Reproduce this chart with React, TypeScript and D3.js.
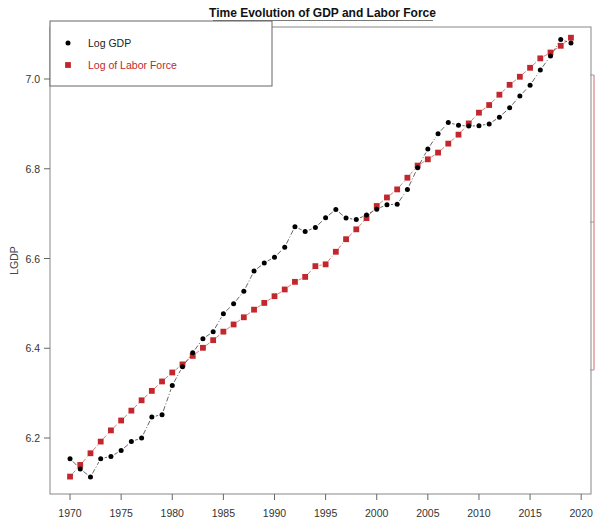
import React from "react";
import * as d3 from "d3";

const years: number[] = d3.range(1970, 2020);

const logGDP: number[] = [
  6.154, 6.131, 6.113, 6.154, 6.159, 6.172, 6.192, 6.2, 6.247, 6.252,
  6.317, 6.359, 6.39, 6.421, 6.437, 6.477, 6.499, 6.527, 6.572, 6.59,
  6.603, 6.625, 6.671, 6.66, 6.669, 6.691, 6.709, 6.69, 6.687, 6.697,
  6.71, 6.72, 6.721, 6.754, 6.802, 6.844, 6.878, 6.903, 6.897, 6.895,
  6.896, 6.9, 6.915, 6.936, 6.962, 6.986, 7.02, 7.051, 7.088, 7.08,
];

const logLabor: number[] = [
  6.114, 6.14, 6.166, 6.192, 6.217, 6.239, 6.261, 6.284, 6.305, 6.326,
  6.346, 6.364, 6.383, 6.401, 6.418, 6.437, 6.453, 6.469, 6.486, 6.501,
  6.516, 6.531, 6.548, 6.559, 6.583, 6.587, 6.615, 6.643, 6.665, 6.69,
  6.717, 6.736, 6.754, 6.78, 6.807, 6.821, 6.836, 6.856, 6.876, 6.901,
  6.925, 6.942, 6.965, 6.987, 7.005, 7.025, 7.046, 7.059, 7.074, 7.092,
];

const xTicks: number[] = [1970, 1975, 1980, 1985, 1990, 1995, 2000, 2005, 2010, 2015, 2020];
const yTicks: number[] = [6.2, 6.4, 6.6, 6.8, 7.0];

const W = 595;
const H = 521;
const L = 50, R = 591, T = 27, B = 494;
const FONT = "Liberation Sans, Arial, sans-serif";

export default function App() {
  const x = d3.scaleLinear().domain([1968.04, 2020.96]).range([L, R]);
  const y = d3.scaleLinear().domain([6.2, 7.0]).range([438, 79]);

  const segs = (vals: number[], gap: number) => {
    const out: string[] = [];
    for (let i = 0; i < vals.length - 1; i++) {
      const x1 = x(years[i]), y1 = y(vals[i]);
      const x2 = x(years[i + 1]), y2 = y(vals[i + 1]);
      const dx = x2 - x1, dy = y2 - y1;
      const len = Math.hypot(dx, dy);
      if (len <= 2 * gap) continue;
      const ux = dx / len, uy = dy / len;
      const p = d3.path();
      p.moveTo(x1 + ux * gap, y1 + uy * gap);
      p.lineTo(x2 - ux * gap, y2 - uy * gap);
      out.push(p.toString());
    }
    return out;
  };

  const red = "#c1272d";

  return (
    <svg width={W} height={H} style={{ position: "absolute", left: 0, top: 0, background: "#fff" }}>
      <rect x={0} y={0} width={W} height={H} fill="#fff" />
      {/* title */}
      <text x={(L + R) / 2 + 2} y={17} textAnchor="middle" fontFamily={FONT} fontWeight="bold" fontSize={12} fill="#111">
        Time Evolution of GDP and Labor Force
      </text>
      <line x1={213} x2={433} y1={20.5} y2={20.5} stroke="#555" strokeWidth={0.8} />
      {/* frame */}
      <rect x={L} y={T} width={R - L} height={B - T} fill="none" stroke="#888" strokeWidth={1} />
      {/* right red axis fragment */}
      <line x1={594} x2={594} y1={75} y2={370} stroke="#d98080" strokeWidth={1.2} />
      {[75, 222, 370].map((t) => (
        <line key={t} x1={590} x2={594} y1={t} y2={t} stroke="#999" strokeWidth={1} />
      ))}
      {/* x axis */}
      {xTicks.map((t) => (
        <g key={t}>
          <line x1={x(t)} x2={x(t)} y1={B} y2={B + 6} stroke="#666" />
          <text x={x(t)} y={517} textAnchor="middle" fontFamily={FONT} fontSize={10.5} fill="#333">
            {t}
          </text>
        </g>
      ))}
      {/* y axis */}
      {yTicks.map((t) => (
        <g key={t}>
          <line x1={L - 6} x2={L} y1={y(t)} y2={y(t)} stroke="#666" />
          <text x={40} y={y(t) + 4} textAnchor="end" fontFamily={FONT} fontSize={10.5} fill="#333">
            {t.toFixed(1)}
          </text>
        </g>
      ))}
      <text transform={`translate(18,${(T + B) / 2}) rotate(-90)`} textAnchor="middle" fontFamily={FONT} fontSize={10.5} fill="#444">
        LGDP
      </text>
      {/* lines */}
      {segs(logLabor, 4).map((d, i) => (
        <path key={"l" + i} d={d} fill="none" stroke="#d88080" strokeWidth={1} strokeDasharray="4,2,1,2" />
      ))}
      {segs(logGDP, 4).map((d, i) => (
        <path key={"g" + i} d={d} fill="none" stroke="#666" strokeWidth={1} strokeDasharray="5,2,1,2" />
      ))}
      {/* points */}
      {logLabor.map((v, i) => (
        <rect key={"rs" + i} x={x(years[i]) - 2.9} y={y(v) - 2.9} width={5.8} height={5.8} fill={red} />
      ))}
      {logGDP.map((v, i) => (
        <circle key={"gc" + i} cx={x(years[i])} cy={y(v)} r={2.5} fill="#000" />
      ))}
      {/* legend */}
      <rect x={L} y={21} width={222} height={65} fill="#fff" stroke="#666" strokeWidth={1} />
      <circle cx={68} cy={43} r={2.5} fill="#000" />
      <text x={88} y={47} fontFamily={FONT} fontSize={10.5} fill="#222">Log GDP</text>
      <rect x={65.1} y={62.1} width={5.8} height={5.8} fill={red} />
      <text x={88} y={69} fontFamily={FONT} fontSize={10.5} fill={red}>Log of Labor Force</text>
    </svg>
  );
}
